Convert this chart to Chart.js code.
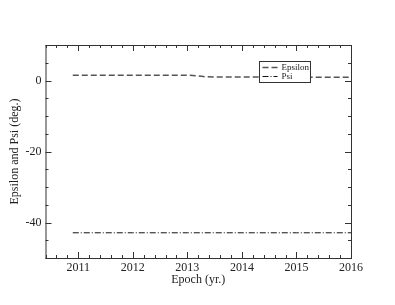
<!DOCTYPE html>
<html>
<head>
<meta charset="utf-8">
<script src="https://cdn.jsdelivr.net/npm/chart.js@4/dist/chart.umd.min.js"></script>
<style>
  html, body { margin: 0; padding: 0; background: #fff; }
  #wrap { width: 395px; height: 305px; }
</style>
</head>
<body>
<div id="wrap"><canvas id="chart" width="395" height="305"></canvas></div>
<script>
// data
const epochs = [2010.9, 2011.5, 2012.0, 2012.5, 2013.0, 2013.1, 2013.3, 2013.5, 2014.0, 2014.5, 2015.0, 2015.5, 2016.0];
const epsilon = [1.5, 1.5, 1.5, 1.5, 1.5, 1.4, 1.1, 1.0, 1.0, 0.95, 0.9, 0.9, 0.9];
const psi = [-42.9, -42.9, -42.9, -42.9, -42.9, -42.9, -42.9, -42.9, -42.9, -42.9, -42.9, -42.9, -42.9];

const xTicks = [2011, 2012, 2013, 2014, 2015, 2016];
const yTicks = [-40, -20, 0];
const xMin = 2010.4, xMax = 2016, yMin = -50, yMax = 10;

const serif = "'Liberation Serif', 'DejaVu Serif', serif";
const frameColor = "#333";

function pts(xs, ys) {
    return xs.map((x, i) => ({ x: x, y: ys[i] }));
}

// frame, inward ticks and legend box
const framePlugin = {
    id: "frame",
    afterDraw(chart) {
        const ctx = chart.ctx;
        const a = chart.chartArea;
        const xs = chart.scales.x, ys = chart.scales.y;
        ctx.save();
        ctx.strokeStyle = frameColor;
        ctx.lineWidth = 1;
        ctx.strokeRect(a.left + 0.5, a.top + 0.5, a.right - a.left, a.bottom - a.top);

        ctx.beginPath();
        // x ticks every 0.2 yr, major each year
        for (let i = 0; i <= 28; i++) {
            const v = xMin + i * 0.2;
            const px = Math.round(xs.getPixelForValue(v)) + 0.5;
            const major = Math.abs(v - Math.round(v)) < 1e-6;
            const len = major ? 6 : 3;
            ctx.moveTo(px, a.bottom); ctx.lineTo(px, a.bottom - len);
            ctx.moveTo(px, a.top); ctx.lineTo(px, a.top + len);
        }
        // y ticks every 5, major every 20
        for (let v = yMin; v <= yMax; v += 5) {
            const py = Math.round(ys.getPixelForValue(v)) + 0.5;
            const major = v % 20 === 0;
            const len = major ? 6 : 3;
            ctx.moveTo(a.left, py); ctx.lineTo(a.left + len, py);
            ctx.moveTo(a.right, py); ctx.lineTo(a.right - len, py);
        }
        ctx.stroke();

        // legend
        const lx = 259.5, ly = 61.5, lw = 51, lh = 21;
        ctx.fillStyle = "#fff";
        ctx.fillRect(lx, ly, lw, lh);
        ctx.strokeRect(lx, ly, lw, lh);
        const items = chart.data.datasets;
        ctx.font = "9px " + serif;
        ctx.textBaseline = "middle";
        items.forEach((ds, i) => {
            const y = ly + 6 + i * 9;
            ctx.strokeStyle = ds.borderColor;
            ctx.lineWidth = ds.borderWidth;
            ctx.setLineDash(ds.borderDash);
            ctx.beginPath();
            ctx.moveTo(lx + 3, y); ctx.lineTo(lx + 18, y);
            ctx.stroke();
            ctx.setLineDash([]);
            ctx.fillStyle = "#222";
            ctx.fillText(ds.label, lx + 22, y);
        });
        ctx.restore();
    }
};

new Chart(document.getElementById("chart"), {
    type: "scatter",
    data: {
        datasets: [
            {
                label: "Epsilon",
                data: pts(epochs, epsilon),
                showLine: true,
                borderColor: "#555",
                borderWidth: 1.5,
                borderDash: [6, 3],
                pointRadius: 0,
                tension: 0
            },
            {
                label: "Psi",
                data: pts(epochs, psi),
                showLine: true,
                borderColor: "#111",
                borderWidth: 1,
                borderDash: [6, 2, 1, 2],
                pointRadius: 0,
                tension: 0
            }
        ]
    },
    options: {
        responsive: false,
        animation: false,
        layout: { padding: { top: 45, right: 44, left: 8, bottom: 18 } },
        plugins: { legend: { display: false }, tooltip: { enabled: false } },
        scales: {
            x: {
                type: "linear",
                min: xMin,
                max: xMax,
                grid: { display: false, drawTicks: false },
                border: { display: false },
                afterBuildTicks(scale) { scale.ticks = xTicks.map(v => ({ value: v })); },
                afterFit(scale) { scale.height = 29; },
                ticks: {
                    padding: 3,
                    color: "#222",
                    font: { family: serif, size: 12 },
                    maxRotation: 0,
                    callback: v => String(v)
                },
                title: {
                    display: true,
                    text: "Epoch (yr.)",
                    color: "#222",
                    font: { family: serif, size: 12 },
                    padding: { top: 0, bottom: 0 }
                }
            },
            y: {
                min: yMin,
                max: yMax,
                grid: { display: false, drawTicks: false },
                border: { display: false },
                afterBuildTicks(scale) { scale.ticks = yTicks.map(v => ({ value: v })); },
                afterFit(scale) { scale.width = 37.5; },
                ticks: {
                    padding: 4,
                    color: "#222",
                    font: { family: serif, size: 12 },
                    callback: v => String(v)
                },
                title: {
                    display: true,
                    text: "Epsilon and Psi (deg.)",
                    color: "#222",
                    font: { family: serif, size: 12 },
                    padding: { top: 0, bottom: 0 }
                }
            }
        }
    },
    plugins: [framePlugin]
});
</script>
</body>
</html>
